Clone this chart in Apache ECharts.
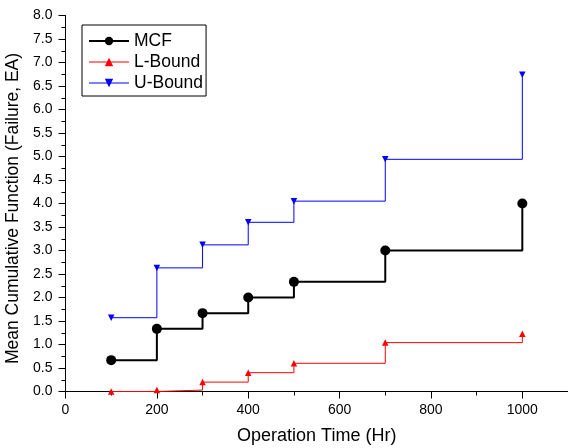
<!DOCTYPE html>
<html>
<head>
<meta charset="utf-8">
<script src="https://cdn.jsdelivr.net/npm/echarts@6/dist/echarts.min.js"></script>
<style>
  html, body { margin: 0; padding: 0; background: #fff; }
  #chart { width: 568px; height: 448px; }
</style>
</head>
<body>
<div id="chart"></div>
<script>
// Operation times (hours) at which the cumulative estimates are evaluated
const hours = [100, 200, 300, 400, 500, 700, 1000];
// Mean cumulative function and its confidence bounds
const mcf = [0.667, 1.333, 1.667, 2.0, 2.333, 3.0, 4.0];
const lowerBound = [0.0, 0.03, 0.2, 0.4, 0.6, 1.04, 1.23];
const upperBound = [1.57, 2.63, 3.12, 3.6, 4.05, 4.94, 6.74];

const pairs = (xs, ys) => xs.map((x, i) => [x, ys[i]]);

const font = 'Liberation Sans, Arial, sans-serif';
const chart = echarts.init(document.getElementById('chart'), null, { renderer: 'canvas' });

chart.setOption({
  animation: false,
  backgroundColor: '#fff',
  grid: { left: 65.5, top: 15.5, right: 0, bottom: 56.5, outerBoundsMode: 'none', containLabel: false },
  legend: {
    orient: 'vertical',
    left: 82,
    top: 25,
    padding: [7, 3, 4, 6],
    itemGap: 3,
    itemWidth: 40,
    itemHeight: 10.5,
    borderColor: '#000',
    borderWidth: 1,
    borderRadius: 0,
    textStyle: { fontFamily: font, fontSize: 17.5, color: '#000' },
    data: [
      { name: 'MCF' },
      { name: 'L-Bound', lineStyle: { opacity: 0.5 } },
      { name: 'U-Bound', lineStyle: { opacity: 0.5 } }
    ]
  },
  xAxis: {
    type: 'value',
    min: 0,
    max: 1100,
    interval: 200,
    name: 'Operation Time (Hr)',
    nameLocation: 'middle',
    nameGap: 36,
    nameTextStyle: { fontFamily: font, fontSize: 18, color: '#000' },
    axisLine: { onZero: false, lineStyle: { color: '#000', width: 1 } },
    axisTick: { inside: false, length: 7, lineStyle: { color: '#000' } },
    minorTick: { show: true, splitNumber: 2, length: 4, lineStyle: { color: '#000' } },
    axisLabel: { fontFamily: font, fontSize: 14, color: '#000', margin: 12,
      formatter: v => (v > 1000 ? '' : String(v)) },
    splitLine: { show: false }
  },
  yAxis: {
    type: 'value',
    min: 0,
    max: 8,
    interval: 0.5,
    name: 'Mean Cumulative Function (Failure, EA)',
    nameLocation: 'middle',
    nameGap: 41,
    nameTextStyle: { fontFamily: font, fontSize: 17.5, color: '#000', padding: [0, 10, 0, 0] },
    axisLine: { show: true, lineStyle: { color: '#000', width: 1 } },
    axisTick: { inside: false, length: 7, lineStyle: { color: '#000' } },
    minorTick: { show: true, splitNumber: 2, length: 4, lineStyle: { color: '#000' } },
    axisLabel: { fontFamily: font, fontSize: 14, color: '#000', margin: 13,
      formatter: v => v.toFixed(1) },
    splitLine: { show: false }
  },
  series: [
    {
      name: 'MCF',
      type: 'line',
      step: 'end',
      data: pairs(hours, mcf),
      symbol: 'circle',
      symbolSize: 10,
      color: '#000',
      lineStyle: { color: '#000', width: 2 },
      itemStyle: { color: '#000' },
      clip: false,
      z: 3
    },
    {
      name: 'L-Bound',
      type: 'line',
      step: 'end',
      data: pairs(hours, lowerBound),
      symbol: 'triangle',
      symbolSize: 6.5,
      color: '#ff0000',
      lineStyle: { color: '#ff0000', width: 1 },
      itemStyle: { color: '#ff0000' },
      clip: false,
      z: 4
    },
    {
      name: 'U-Bound',
      type: 'line',
      step: 'end',
      data: pairs(hours, upperBound),
      symbol: 'triangle',
      symbolRotate: 180,
      symbolSize: 6.5,
      color: '#0000ff',
      lineStyle: { color: '#0000ff', width: 1 },
      itemStyle: { color: '#0000ff' },
      clip: false,
      z: 2
    }
  ]
});
</script>
</body>
</html>
